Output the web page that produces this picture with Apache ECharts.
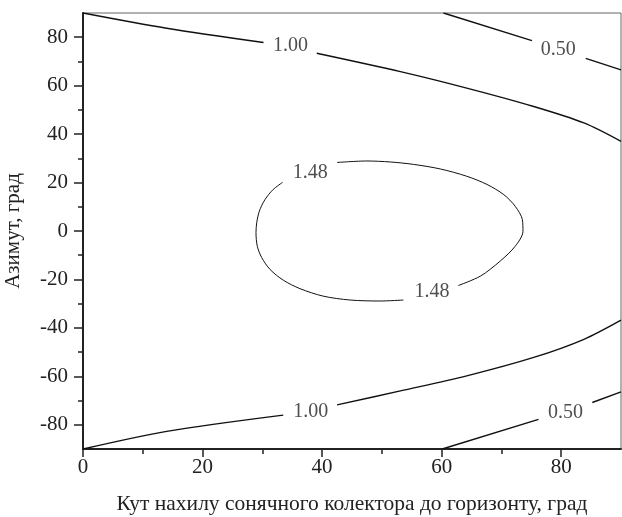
<!DOCTYPE html>
<html>
<head>
<meta charset="utf-8">
<script src="https://cdn.jsdelivr.net/npm/echarts@6/dist/echarts.min.js"></script>
<style>html,body{margin:0;padding:0;background:#fff;}#c{width:622px;height:517px;}</style>
</head>
<body>
<div id="c"></div>
<script>
// Axis ticks
const xMajor = [0, 20, 40, 60, 80];
const xMinor = [10, 30, 50, 70];
const yMajor = [-80, -60, -40, -20, 0, 20, 40, 60, 80];
const yMinor = [-70, -50, -30, -10, 10, 30, 50, 70];

// Contour 1.00 (upper), split by label gap
const upper100A = [[0, 90], [14.0, 83.7], [30.2, 77.8]];
const upper100B = [[39.1, 73.4], [53.1, 65.8], [64.2, 59.0], [75.4, 51.4], [83.8, 44.6], [90, 37.0]];
// Contour 0.50 (upper)
const upper050A = [[60.3, 90], [75.1, 78.6]];
const upper050B = [[84.1, 71.3], [90, 66.5]];
// Contour 1.00 (lower)
const lower100A = [[0, -90], [14.0, -82.7], [33.5, -76.0]];
const lower100B = [[42.5, -71.8], [53.1, -66.0], [64.2, -59.8], [75.4, -52.2], [83.8, -44.7], [90, -36.8]];
// Contour 0.50 (lower)
const lower050A = [[60.1, -90], [76.2, -77.8]];
const lower050B = [[85.2, -70.8], [90, -66.4]];
// Contour 1.48 (closed loop), split by the two labels
const loop148A = [[33.4, 20.1], [31.8, 17.1], [30.45, 13.0], [29.5, 8.2], [29.06, 3.4], [28.94, -0.7], [29.16, -6.3],
  [29.9, -11.0], [31.3, -15.9], [33.5, -20.3], [36.3, -23.8], [40.2, -26.9], [44.7, -28.5], [49.7, -28.9], [53.6, -28.5]];
const loop148B = [[62.8, -22.5], [66.5, -18.6], [69.8, -12.4], [72.3, -6.3], [73.6, -0.1], [73.5, 4.7], [72.3, 10.2],
  [70.4, 15.0], [67.6, 19.2], [64.2, 22.6], [59.8, 25.6], [55.3, 27.5], [51.4, 28.5], [47.5, 28.9], [42.5, 28.3]];

// Contour labels
const labelText = ['1.00', '0.50', '1.48', '1.48', '1.00', '0.50'];
const labelX = [34.7, 79.5, 38.0, 58.4, 38.1, 80.7];
const labelY = [76.5, 74.8, 24.1, -25.2, -74.6, -74.9];

const FONT = 'Liberation Serif';
const TXT = '#222';

function lineSeries(data, width, smooth) {
  return {
    type: 'line', data: data, xAxisIndex: 0, yAxisIndex: 0,
    showSymbol: false, symbol: 'none', smooth: smooth,
    lineStyle: { color: '#111', width: width }, silent: true, animation: false
  };
}

const series = [
  lineSeries(upper100A, 1.4, 0.3),
  lineSeries(upper100B, 1.4, 0.3),
  lineSeries(upper050A, 1.4, false),
  lineSeries(upper050B, 1.4, false),
  lineSeries(lower100A, 1.4, 0.3),
  lineSeries(lower100B, 1.4, 0.3),
  lineSeries(lower050A, 1.4, false),
  lineSeries(lower050B, 1.4, false),
  lineSeries(loop148A, 1, 0.3),
  lineSeries(loop148B, 1, 0.3),
  {
    type: 'scatter', xAxisIndex: 0, yAxisIndex: 0, symbolSize: 0, silent: true, animation: false,
    data: labelText.map((t, i) => ({ value: [labelX[i], labelY[i]], name: t })),
    label: {
      show: true, position: 'inside', formatter: p => p.name,
      fontFamily: FONT, fontSize: 20, color: TXT
    }
  }
];

const axisLineStyle = { color: '#222', width: 2 };
const chart = echarts.init(document.getElementById('c'), null, { renderer: 'canvas' });
chart.setOption({
  animation: false,
  grid: { left: 83, right: 1, top: 13, bottom: 68, show: true, borderColor: '#666', borderWidth: 1,
          containLabel: false, outerBoundsMode: 'none' },
  xAxis: [
    {
      type: 'value', min: 0, max: 90, position: 'bottom',
      name: 'Кут нахилу сонячного колектора до горизонту, град',
      nameLocation: 'middle', nameGap: 44,
      nameTextStyle: { fontFamily: FONT, fontSize: 21.5, color: TXT },
      axisLine: { show: true, onZero: false, lineStyle: axisLineStyle },
      axisTick: { show: true, customValues: xMajor, length: 8, lineStyle: { color: '#222', width: 1.5 } },
      axisLabel: { customValues: xMajor, margin: 8, fontFamily: FONT, fontSize: 21, color: TXT },
      splitLine: { show: false }
    },
    {
      type: 'value', min: 0, max: 90, position: 'bottom', offset: 0,
      axisLine: { show: false, onZero: false },
      axisTick: { show: true, customValues: xMinor, length: 5, lineStyle: { color: '#222', width: 1.5 } },
      axisLabel: { show: false },
      splitLine: { show: false }
    }
  ],
  yAxis: [
    {
      type: 'value', min: -90, max: 90, position: 'left',
      name: 'Азимут, град', nameLocation: 'middle', nameGap: 59,
      nameTextStyle: { fontFamily: FONT, fontSize: 21, color: TXT },
      axisLine: { show: true, onZero: false, lineStyle: axisLineStyle },
      axisTick: { show: true, customValues: yMajor, length: 9, lineStyle: { color: '#222', width: 1.5 } },
      axisLabel: { customValues: yMajor, margin: 15, fontFamily: FONT, fontSize: 21, color: TXT },
      splitLine: { show: false }
    },
    {
      type: 'value', min: -90, max: 90, position: 'left', offset: 0,
      axisLine: { show: false, onZero: false },
      axisTick: { show: true, customValues: yMinor, length: 5, lineStyle: { color: '#222', width: 1.5 } },
      axisLabel: { show: false },
      splitLine: { show: false }
    }
  ],
  series: series
});
</script>
</body>
</html>
